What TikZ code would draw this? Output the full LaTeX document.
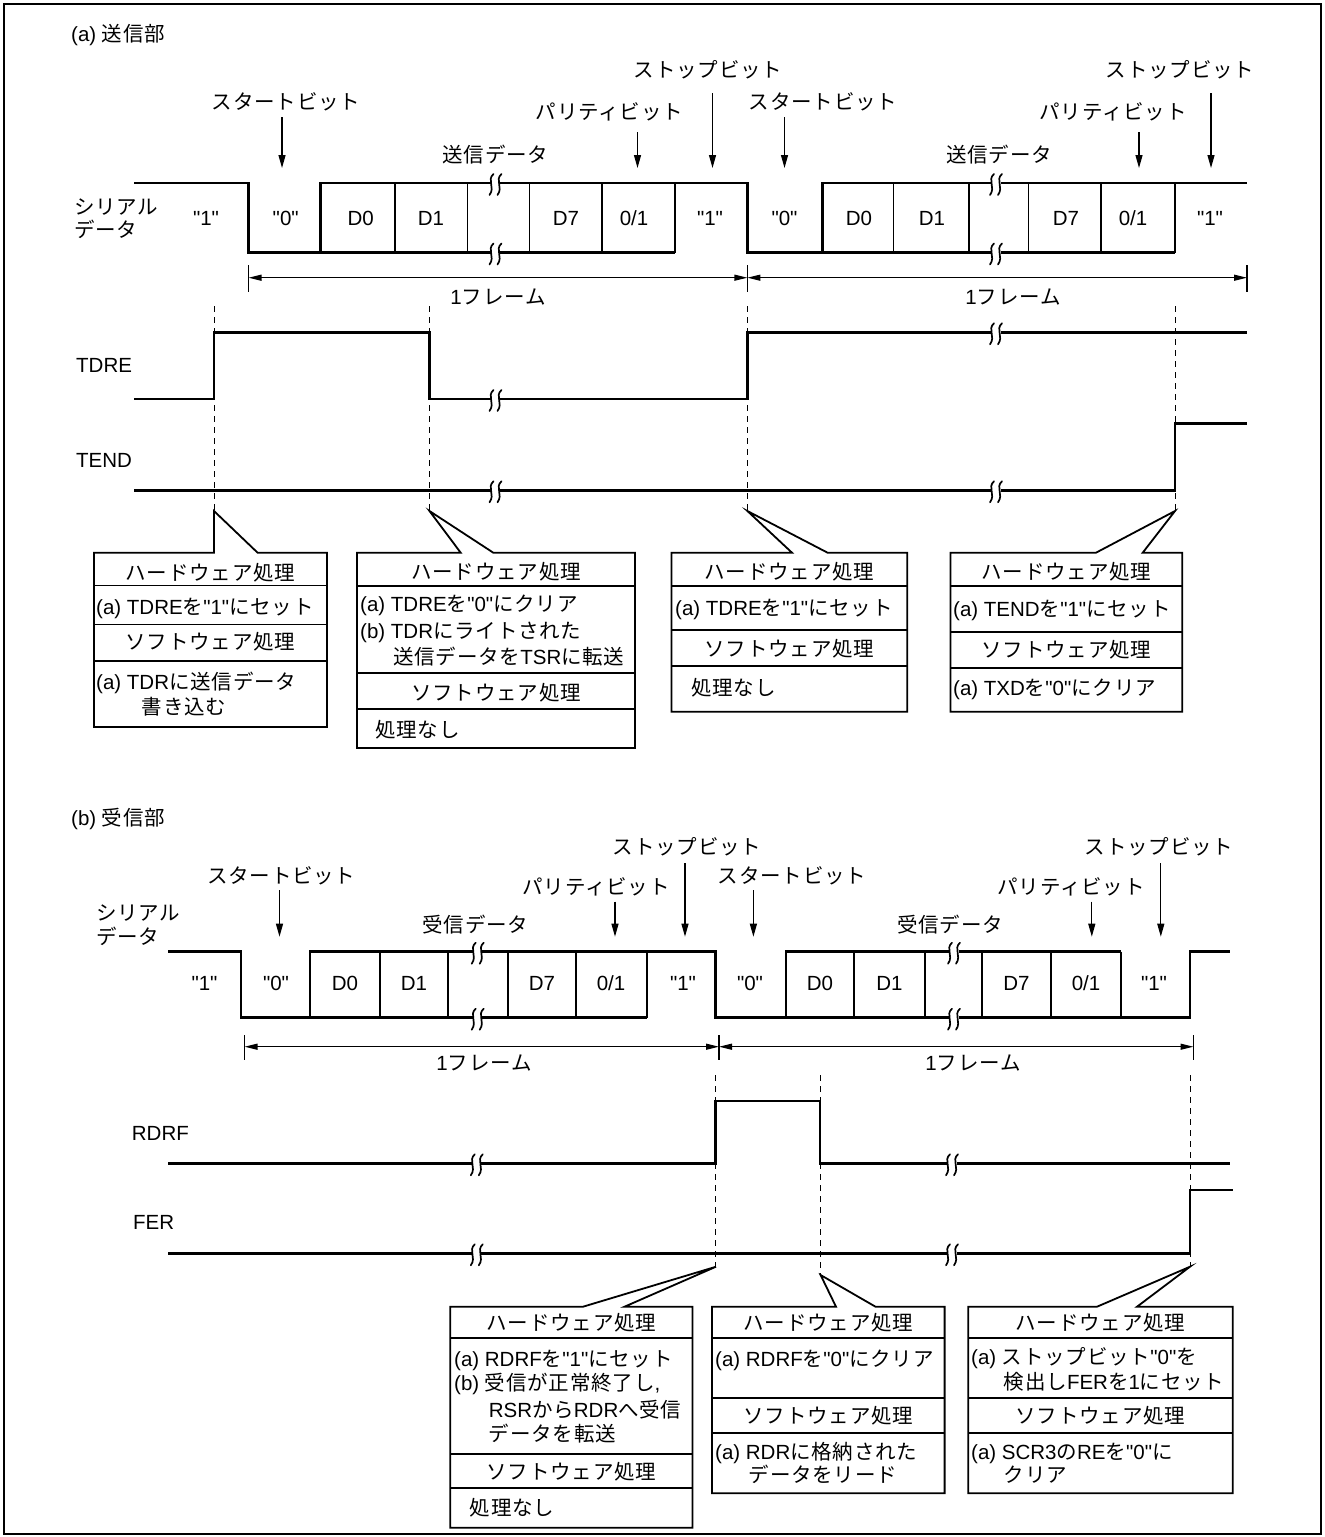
\documentclass[tikz,border=0pt]{standalone}
\usepackage{fontspec}
\setmainfont{Liberation Sans}[Ligatures=TeXOff]
\newfontfamily\jpf{Noto Sans CJK JP}[LetterSpace=4,Ligatures=TeXOff]
\newcommand\J[1]{{\jpf #1}}
\usetikzlibrary{arrows.meta}
\tikzset{
  sig/.style={line width=2.6pt, line join=miter, line cap=butt},
  divl/.style={line width=1.8pt},
  boxl/.style={line width=1.8pt, line join=miter},
  dsh/.style={line width=1pt, dash pattern=on 6pt off 5pt},
  arr/.style={line width=1.2pt, -{Triangle[length=13pt,width=7pt]}},
  darr/.style={line width=1.2pt, {Triangle[length=13pt,width=6pt]}-{Triangle[length=13pt,width=6pt]}},
  tk/.style={line width=1.2pt},
  lab/.style={anchor=base, inner sep=0pt},
  labl/.style={anchor=base west, inner sep=0pt},
  sq/.style={line width=1.7pt, line cap=round},
}
\newcommand\brk[2]{%
  \fill[white] ({#1-4.5},{#2-3}) rectangle ({#1+4.5},{#2+3});
  \draw[sq] ({#1-2},{#2-9}) .. controls ({#1-9},{#2-3}) and ({#1},{#2+4}) .. ({#1-6},{#2+12});
  \draw[sq] ({#1+6},{#2-9}) .. controls ({#1-1},{#2-3}) and ({#1+8},{#2+4}) .. ({#1+2},{#2+12});
}
\begin{document}
\begin{tikzpicture}[x=1pt,y=-1pt, every node/.append style={font=\fontsize{20.5}{24}\selectfont}]
\useasboundingbox (0,0) rectangle (1325,1537);
\draw[line width=2pt] (3.5,4) rectangle (1321,1534);

% ================= (a) =================
\node[labl] (ta) at (71,41) {(a) \J{送信部}};
\node[lab] (stopA1) at (708,77) {\J{ストップビット}};
\node[lab] (stopA2) at (1180,77) {\J{ストップビット}};
\node[lab] (startA1) at (286,109) {\J{スタートビット}};
\node[lab] (startA2) at (823,109) {\J{スタートビット}};
\node[lab] (parA1) at (609.5,119) {\J{パリティビット}};
\node[lab] (parA2) at (1113,119) {\J{パリティビット}};
\node[lab] (datA1) at (495.5,162) {\J{送信データ}};
\node[lab] (datA2) at (999,162) {\J{送信データ}};
\node[labl] (serA1) at (74,214) {\J{シリアル}};
\node[labl] (serA2) at (74,237) {\J{データ}};

\coordinate (aSt1) at (282,168);  \coordinate (aSt2) at (784.5,168);
\coordinate (aPa1) at (637.5,168); \coordinate (aPa2) at (1139,168);
\coordinate (aSp1) at (712.5,168); \coordinate (aSp2) at (1211,168);
\draw[arr] (282,117) -- (aSt1);
\draw[arr] (784.5,117) -- (aSt2);
\draw[arr] (637.5,132) -- (aPa1);
\draw[arr] (1139,132) -- (aPa2);
\draw[arr] (712.5,93) -- (aSp1);
\draw[arr] (1211,93) -- (aSp2);

% dashed guide lines
\foreach \x in {214,429.5,747.4,1175} \draw[dsh] (\x,306) -- (\x,511);

% serial data
\draw[sig] (134,183) -- (248.5,183) -- (248.5,252.5) -- (675,252.5);
\draw[sig] (320.5,252.5) -- (320.5,183) -- (747.4,183) -- (747.4,252.5) -- (1175,252.5);
\draw[sig] (822.4,252.5) -- (822.4,183) -- (1247,183);
\foreach \x in {394.6,467.4,529.5,601.8,675,893.5,969,1028.4,1101,1175}
  \draw[divl] (\x,183) -- (\x,252.5);
\brk{495.5}{183}\brk{495.5}{252.5}\brk{996}{183}\brk{996}{252.5}
\foreach \x/\t/\n in {206/"1"/a1,285.7/"0"/a2,360.7/D0/a3,431/D1/a4,566/D7/a5,634/0\slash 1/a6,710/"1"/a7,
  784.5/"0"/a8,859/D0/a9,932/D1/a10,1066/D7/a11,1133/0\slash 1/a12,1210/"1"/a13}
  \node[lab] (\n) at (\x,225) {\t};

% frame arrows
\draw[darr] (248.5,277.7) -- (747.4,277.7);
\draw[darr] (747.4,277.7) -- (1247,277.7);
\foreach \x in {248.5,747.4,1247} \draw[tk] (\x,265) -- (\x,292);
\node[lab] (frA1) at (498,304.5) {1\J{フレーム}};
\node[lab] (frA2) at (1013,304.5) {1\J{フレーム}};

% TDRE / TEND
\node[labl] (tdre) at (76,372.5) {TDRE};
\node[labl] (tend) at (76,467) {TEND};
\draw[sig] (134,399) -- (214,399) -- (214,332.3) -- (429.5,332.3) -- (429.5,399) -- (747.4,399) -- (747.4,332.3) -- (1247,332.3);
\brk{495.5}{399}\brk{996}{332.3}
\draw[sig] (134,490.3) -- (1175,490.3) -- (1175,423.3) -- (1247,423.3);
\brk{495.5}{490.3}\brk{996}{490.3}

% callout boxes (a)
\draw[boxl] (94,552.7) -- (214,552.7) -- (214,511) -- (257.6,552.7) -- (327,552.7) -- (327,727) -- (94,727) -- cycle;
\foreach \y in {585.5,624.5,661} \draw[boxl] (94,\y) -- (327,\y);
\node[lab] (b1h) at (210.5,580.5) {\J{ハードウェア処理}};
\node[labl] (b1a) at (96,614) {(a) TDRE\J{を}"1"\J{にセット}};
\node[lab] (b1s) at (210.5,649) {\J{ソフトウェア処理}};
\node[labl] (b1b) at (96,689.5) {(a) TDR\J{に送信データ}};
\node[labl] (b1c) at (141.7,714.5) {\J{書き込む}};

\draw[boxl] (357,552.7) -- (460.7,552.7) -- (429.5,511) -- (493.3,552.7) -- (635,552.7) -- (635,748) -- (357,748) -- cycle;
\foreach \y in {586,673.3,709.3} \draw[boxl] (357,\y) -- (635,\y);
\node[lab] (b2h) at (496,579.5) {\J{ハードウェア処理}};
\node[labl] (b2a) at (360,611.5) {(a) TDRE\J{を}"0"\J{にクリア}};
\node[labl] (b2b) at (360,638) {(b) TDR\J{にライトされた}};
\node[labl] (b2c) at (393,664.5) {\J{送信データを}TSR\J{に転送}};
\node[lab] (b2s) at (496,700) {\J{ソフトウェア処理}};
\node[labl] (b2n) at (375,737) {\J{処理なし}};

\draw[boxl] (671.5,552.7) -- (792,552.7) -- (747.4,511) -- (827.6,552.7) -- (907.3,552.7) -- (907.3,711.7) -- (671.5,711.7) -- cycle;
\foreach \y in {586,630,666} \draw[boxl] (671.5,\y) -- (907.3,\y);
\node[lab] (b3h) at (789.4,579.5) {\J{ハードウェア処理}};
\node[labl] (b3a) at (675,615.5) {(a) TDRE\J{を}"1"\J{にセット}};
\node[lab] (b3s) at (789.4,656.5) {\J{ソフトウェア処理}};
\node[labl] (b3n) at (691,695.5) {\J{処理なし}};

\draw[boxl] (950.4,552.7) -- (1096,552.7) -- (1175,511) -- (1142.7,552.7) -- (1182.3,552.7) -- (1182.3,711.7) -- (950.4,711.7) -- cycle;
\foreach \y in {586,631.7,667.7} \draw[boxl] (950.4,\y) -- (1182.3,\y);
\node[lab] (b4h) at (1066.4,579.5) {\J{ハードウェア処理}};
\node[labl] (b4a) at (953,616.5) {(a) TEND\J{を}"1"\J{にセット}};
\node[lab] (b4s) at (1066.4,657) {\J{ソフトウェア処理}};
\node[labl] (b4b) at (953,695.5) {(a) TXD\J{を}"0"\J{にクリア}};

% ================= (b) =================
\node[labl] (tb) at (71,825.5) {(b) \J{受信部}};
\node[lab] (stopB1) at (687,854) {\J{ストップビット}};
\node[lab] (stopB2) at (1159,854) {\J{ストップビット}};
\node[lab] (startB1) at (281.3,883) {\J{スタートビット}};
\node[lab] (startB2) at (792,883) {\J{スタートビット}};
\node[lab] (parB1) at (596,894) {\J{パリティビット}};
\node[lab] (parB2) at (1071,894) {\J{パリティビット}};
\node[lab] (datB1) at (475.5,932) {\J{受信データ}};
\node[lab] (datB2) at (950,932) {\J{受信データ}};
\node[labl] (serB1) at (96,920) {\J{シリアル}};
\node[labl] (serB2) at (96,944) {\J{データ}};

\coordinate (bSt1) at (279.5,936.7); \coordinate (bSt2) at (753.4,936.7);
\coordinate (bPa1) at (615,936.7);   \coordinate (bPa2) at (1091.8,936.7);
\coordinate (bSp1) at (685,936.7);   \coordinate (bSp2) at (1160.8,936.7);
\draw[arr] (279.5,890) -- (bSt1);
\draw[arr] (753.4,890) -- (bSt2);
\draw[arr] (615,901.7) -- (bPa1);
\draw[arr] (1091.8,901.7) -- (bPa2);
\draw[arr] (685,863) -- (bSp1);
\draw[arr] (1160.8,863) -- (bSp2);

\draw[dsh] (715.5,1075) -- (715.5,1266.7);
\draw[dsh] (820,1075) -- (820,1275);
\draw[dsh] (1190,1075) -- (1190,1266.7);

\draw[sig] (168.3,951.7) -- (241,951.7) -- (241,1017.7) -- (647.3,1017.7);
\draw[sig] (309.8,1017.7) -- (309.8,951.7) -- (715.5,951.7) -- (715.5,1017.7) -- (1190,1017.7) -- (1190,951.7) -- (1229.7,951.7);
\draw[sig] (785.8,1017.7) -- (785.8,951.7) -- (1120.7,951.7);
\foreach \x in {380,447.8,507.6,576,647.3,854.3,924.6,982,1051,1120.7}
  \draw[divl] (\x,951.7) -- (\x,1017.7);
\brk{477.7}{951.7}\brk{477.7}{1017.7}\brk{954}{951.7}\brk{954}{1017.7}
\foreach \x/\t/\n in {204.5/"1"/c1,276/"0"/c2,345/D0/c3,414/D1/c4,542/D7/c5,611/0\slash 1/c6,683/"1"/c7,
  750/"0"/c8,820/D0/c9,889.5/D1/c10,1016.5/D7/c11,1086/0\slash 1/c12,1154/"1"/c13}
  \node[lab] (\n) at (\x,990) {\t};

\draw[darr] (244.5,1046.7) -- (719,1046.7);
\draw[darr] (719,1046.7) -- (1193.5,1046.7);
\foreach \x in {244.5,719,1193.5} \draw[tk] (\x,1035) -- (\x,1060);
\node[lab] (frB1) at (484,1070.5) {1\J{フレーム}};
\node[lab] (frB2) at (973,1070.5) {1\J{フレーム}};

\node[labl] (rdrf) at (131.7,1140.5) {RDRF};
\node[labl] (fer) at (133,1229.5) {FER};
\draw[sig] (168,1163.3) -- (715.5,1163.3) -- (715.5,1101) -- (820,1101) -- (820,1163.3) -- (1230,1163.3);
\brk{476.8}{1163.3}\brk{952}{1163.3}
\draw[sig] (168,1253.3) -- (1190,1253.3) -- (1190,1190) -- (1233,1190);
\brk{476.8}{1253.3}\brk{952}{1253.3}

% callout boxes (b)
\draw[boxl] (450.2,1306.7) -- (583,1306.7) -- (716,1266.7) -- (624.5,1306.7) -- (692.4,1306.7) -- (692.4,1527.7) -- (450.2,1527.7) -- cycle;
\foreach \y in {1338.3,1454,1487.7} \draw[boxl] (450.2,\y) -- (692.4,\y);
\node[lab] (b5h) at (571.3,1330.5) {\J{ハードウェア処理}};
\node[labl] (b5a) at (454,1366.5) {(a) RDRF\J{を}"1"\J{にセット}};
\node[labl] (b5b) at (454,1390) {(b) \J{受信が正常終了し}, };
\node[labl] (b5c) at (488.6,1417) {RSR\J{から}RDR\J{へ受信}};
\node[labl] (b5d) at (488.6,1441) {\J{データを転送}};
\node[lab] (b5s) at (571.3,1479) {\J{ソフトウェア処理}};
\node[labl] (b5n) at (469.7,1515.5) {\J{処理なし}};

\draw[boxl] (711.9,1306.7) -- (836,1306.7) -- (820.6,1275) -- (875.5,1306.7) -- (944.6,1306.7) -- (944.6,1493.3) -- (711.9,1493.3) -- cycle;
\foreach \y in {1338.3,1398.3,1432.7} \draw[boxl] (711.9,\y) -- (944.6,\y);
\node[lab] (b6h) at (828.3,1330.5) {\J{ハードウェア処理}};
\node[labl] (b6a) at (715,1366.5) {(a) RDRF\J{を}"0"\J{にクリア}};
\node[lab] (b6s) at (828.3,1423) {\J{ソフトウェア処理}};
\node[labl] (b6b) at (715,1459) {(a) RDR\J{に格納された}};
\node[labl] (b6c) at (748.5,1482) {\J{データをリード}};

\draw[boxl] (968.2,1306.7) -- (1097,1306.7) -- (1190,1266.7) -- (1137,1306.7) -- (1232.8,1306.7) -- (1232.8,1493.3) -- (968.2,1493.3) -- cycle;
\foreach \y in {1338.3,1397.7,1432.7} \draw[boxl] (968.2,\y) -- (1232.8,\y);
\node[lab] (b7h) at (1100.5,1330.5) {\J{ハードウェア処理}};
\node[labl] (b7a) at (971,1364) {(a) \J{ストップビット}"0"\J{を}};
\node[labl] (b7b) at (1003.7,1389) {\J{検出し}FER\J{を}1\J{にセット}};
\node[lab] (b7s) at (1100.5,1423) {\J{ソフトウェア処理}};
\node[labl] (b7c) at (971,1459) {(a) SCR3\J{の}RE\J{を}"0"\J{に}};
\node[labl] (b7d) at (1003.7,1482) {\J{クリア}};
\end{tikzpicture}
\end{document}
